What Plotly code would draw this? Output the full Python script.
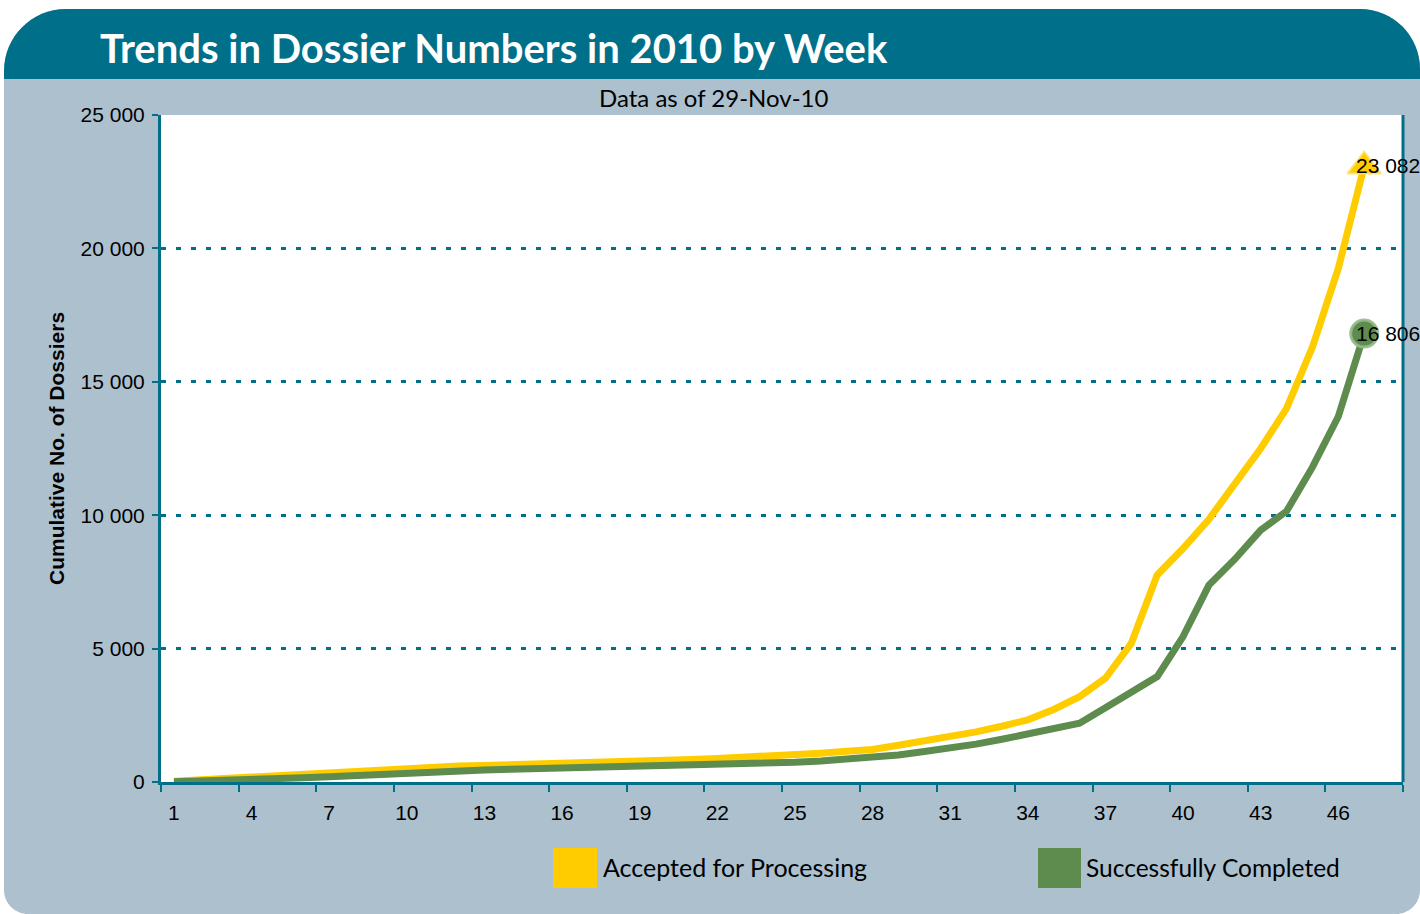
import plotly.graph_objects as go

weeks = list(range(1, 48))
accepted = [30, 80, 130, 190, 240, 300, 360, 440, 480, 520,
            580, 600, 620, 640, 660, 680, 710, 740, 770, 800,
            840, 880, 920, 970, 1020, 1080, 1150, 1220, 1380, 1530,
            1690, 1880, 2090, 2330, 2720, 3200, 3890, 5200, 7760, 8750,
            9850, 11150, 12500, 14000, 16300, 19250, 23082]
completed = [10, 30, 60, 90, 120, 160, 200, 250, 300, 350,
             410, 430, 450, 480, 500, 510, 530, 550, 570, 590,
             620, 650, 680, 700, 740, 790, 860, 920, 1010, 1140,
             1260, 1420, 1600, 1800, 2040, 2200, 2780, 3380, 3950, 5450,
             7380, 8350, 9440, 10150, 11800, 13700, 16806]
xtick_vals = list(range(1, 47, 3))
ytick_vals = [0, 5000, 10000, 15000, 20000, 25000]
series_names = ["Accepted for Processing", "Successfully Completed"]
title_text = "Trends in Dossier Numbers in 2010 by Week"
subtitle_text = "Data as of 29-Nov-10"
yaxis_title = "Cumulative No. of Dossiers"

W, H = 1420, 914
L, R, T, B = 161, 1403, 115, 782
YELLOW = "#FFCC00"
GREEN = "#5E8C4E"
TEAL = "#006F8A"
PANEL = "#ADC0CE"


def px(x):
    return (x - L) / (R - L)


def py(y):
    return (B - y) / (B - T)


def P(x, y):
    return f"{px(x)},{py(y)}"


def rounded_path(x0, y0, x1, y1, rtl, rtr, rbr, rbl):
    k = 0.5523
    s = f"M {P(x0, y0 + rtl)} "
    s += f"C {P(x0, y0 + rtl - k*rtl)} {P(x0 + rtl - k*rtl, y0)} {P(x0 + rtl, y0)} "
    s += f"L {P(x1 - rtr, y0)} "
    s += f"C {P(x1 - rtr + k*rtr, y0)} {P(x1, y0 + rtr - k*rtr)} {P(x1, y0 + rtr)} "
    if rbr > 0:
        s += f"L {P(x1, y1 - rbr)} "
        s += f"C {P(x1, y1 - rbr + k*rbr)} {P(x1 - rbr + k*rbr, y1)} {P(x1 - rbr, y1)} "
    else:
        s += f"L {P(x1, y1)} "
    if rbl > 0:
        s += f"L {P(x0 + rbl, y1)} "
        s += f"C {P(x0 + rbl - k*rbl, y1)} {P(x0, y1 - rbl + k*rbl)} {P(x0, y1 - rbl)} "
    else:
        s += f"L {P(x0, y1)} "
    s += "Z"
    return s


fig = go.Figure()
fig.add_trace(go.Scatter(x=weeks, y=accepted, mode="lines", name=series_names[0],
                         line=dict(color=YELLOW, width=7), showlegend=False, hoverinfo="skip"))
fig.add_trace(go.Scatter(x=weeks, y=completed, mode="lines", name=series_names[1],
                         line=dict(color=GREEN, width=7), showlegend=False, hoverinfo="skip"))
fig.add_trace(go.Scatter(x=[weeks[-1]], y=[accepted[-1]], mode="markers",
                         marker=dict(symbol="triangle-up", size=29, color=YELLOW,
                                     line=dict(color="rgba(255,225,110,0.9)", width=2)),
                         showlegend=False, hoverinfo="skip"))
fig.add_trace(go.Scatter(x=[weeks[-1]], y=[completed[-1]], mode="markers",
                         marker=dict(symbol="circle", size=27, color=GREEN,
                                     line=dict(color="rgba(150,185,140,0.9)", width=3)),
                         showlegend=False, hoverinfo="skip"))


def fmt(v):
    return f"{v:,}".replace(",", " ")


shapes = [
    dict(type="path", xref="paper", yref="paper", layer="below",
         path=rounded_path(4, 9, 1420, 914, 62, 60, 24, 24),
         fillcolor=PANEL, line=dict(width=0)),
    dict(type="path", xref="paper", yref="paper", layer="below",
         path=rounded_path(4, 9, 1420, 79, 62, 60, 0, 0),
         fillcolor=TEAL, line=dict(width=0)),
    dict(type="rect", xref="paper", yref="paper", layer="below",
         x0=0, x1=1, y0=0, y1=1, fillcolor="white", line=dict(width=0)),
    dict(type="line", xref="paper", yref="paper", x0=1, x1=1, y0=0, y1=1,
         line=dict(color=TEAL, width=3)),
    dict(type="rect", xref="paper", yref="paper", layer="above",
         x0=px(553), x1=px(597), y0=py(888), y1=py(848),
         fillcolor=YELLOW, line=dict(width=0)),
    dict(type="rect", xref="paper", yref="paper", layer="above",
         x0=px(1038), x1=px(1081), y0=py(888), y1=py(848),
         fillcolor=GREEN, line=dict(width=0)),
]

annotations = [
    dict(xref="paper", yref="paper", x=px(98), y=py(48), xanchor="left", yanchor="middle",
         text=f"<b>{title_text}</b>", showarrow=False,
         font=dict(family="Lato", size=40, color="white")),
    dict(xref="paper", yref="paper", x=px(714), y=py(97), xanchor="center", yanchor="middle",
         text=subtitle_text, showarrow=False,
         font=dict(family="Lato", size=24, color="black")),
    dict(xref="paper", yref="paper", x=px(56), y=py(449), xanchor="center", yanchor="middle",
         text=f"<b>{yaxis_title}</b>", textangle=-90, showarrow=False,
         font=dict(family="Liberation Sans", size=21, color="black")),
    dict(xref="paper", yref="paper", x=px(601), y=py(867), xanchor="left", yanchor="middle",
         text=series_names[0], showarrow=False,
         font=dict(family="Lato", size=25, color="black")),
    dict(xref="paper", yref="paper", x=px(1084), y=py(867), xanchor="left", yanchor="middle",
         text=series_names[1], showarrow=False,
         font=dict(family="Lato", size=24.5, color="black")),
    dict(x=weeks[-1], y=accepted[-1], xref="x", yref="y", xanchor="left", yanchor="middle",
         xshift=-10, yshift=1, text=fmt(accepted[-1]), showarrow=False,
         font=dict(family="Liberation Sans", size=21, color="black")),
    dict(x=weeks[-1], y=completed[-1], xref="x", yref="y", xanchor="left", yanchor="middle",
         xshift=-10, text=fmt(completed[-1]), showarrow=False,
         font=dict(family="Liberation Sans", size=21, color="black")),
]

fig.update_layout(
    width=W, height=H,
    margin=dict(l=L, r=W - R, t=T, b=H - B, pad=0),
    paper_bgcolor="white", plot_bgcolor="white",
    separators=". ",
    showlegend=False,
    shapes=shapes, annotations=annotations,
    font=dict(family="Liberation Sans", color="black"),
)
fig.update_xaxes(
    range=[0.5, 48.5], tickmode="array", tickvals=xtick_vals,
    ticktext=[str(v) for v in xtick_vals],
    ticks="outside", ticklen=10, tickcolor="rgba(0,0,0,0)",
    tickfont=dict(family="Liberation Sans", size=21, color="black"),
    showline=True, linecolor=TEAL, linewidth=3, showgrid=False, zeroline=False,
    minor=dict(tick0=0.5, dtick=3, ticks="outside", ticklen=7, tickcolor=TEAL,
               tickwidth=2, showgrid=False),
)
fig.update_yaxes(
    range=[0, 25000], tickmode="array", tickvals=ytick_vals, tickformat=",d",
    ticks="outside", ticklen=6, tickcolor=TEAL, tickwidth=2,
    ticklabelstandoff=3,
    tickfont=dict(family="Liberation Sans", size=21, color="black"),
    showline=True, linecolor=TEAL, linewidth=3, zeroline=False,
    showgrid=True, gridcolor=TEAL, gridwidth=2.5, griddash="5px,10px",
)

fig.write_html("out.html", config={"displayModeBar": False},
               post_script="document.body.style.margin='0';")
